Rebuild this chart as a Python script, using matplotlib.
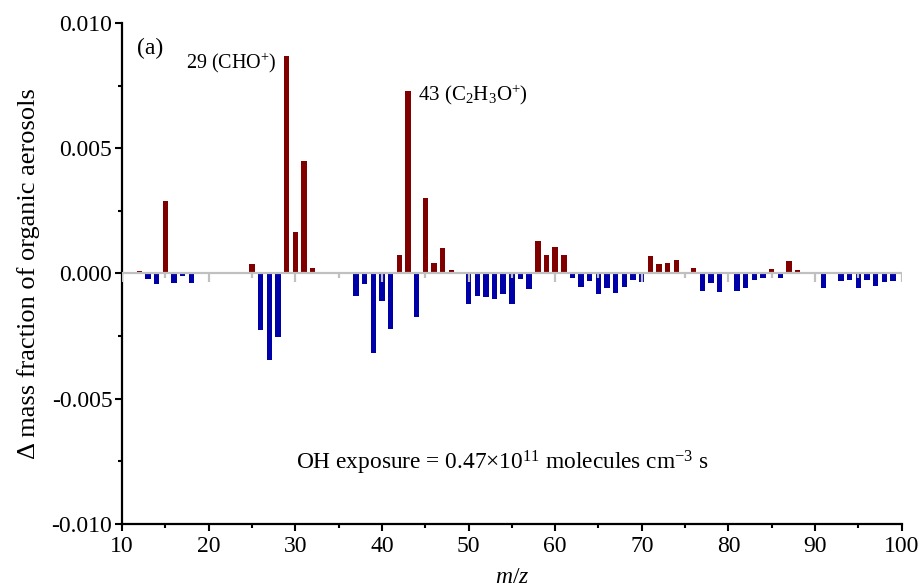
import matplotlib
matplotlib.use("Agg")
import matplotlib.pyplot as plt
from matplotlib.ticker import MultipleLocator
import numpy as np

# m/z and difference in mass fraction
mz = list(range(12, 101))
delta = [
    0.00008, -0.00021, -0.00044, 0.00289, -0.00037, -0.00012, -0.00040, 0.0,      # 12-19
    0.0, 0.0, 0.0, 0.0, 0.00003, 0.00036, -0.00227, -0.00347, -0.00254, 0.00866,   # 20-29
    0.00164, 0.00450, 0.00023, 0.0, 0.0, 0.0, 0.00005, -0.00090, -0.00044, -0.00317,  # 30-39
    -0.00110, -0.00220, 0.00072, 0.00730, -0.00173, 0.00300, 0.00040, 0.00101, 0.00013, 0.0,  # 40-49
    -0.00123, -0.00090, -0.00093, -0.00104, -0.00083, -0.00123, -0.00024, -0.00064, 0.00130, 0.00072,  # 50-59
    0.00104, 0.00072, -0.00020, -0.00053, -0.00030, -0.00083, -0.00060, -0.00080, -0.00056, -0.00027,  # 60-69
    -0.00033, 0.00069, 0.00037, 0.00040, 0.00053, 0.00004, 0.00020, -0.00070, -0.00040, -0.00073,  # 70-79
    0.0, -0.00069, -0.00060, -0.00027, -0.00017, 0.00016, -0.00017, 0.00050, 0.00013, 0.00007,  # 80-89
    0.00007, -0.00060, 0.0, -0.00030, -0.00027, -0.00057, -0.00027, -0.00050, -0.00036, -0.00030,  # 90-99
    0.00004,  # 100
]

red = "#800000"
blue = "#0000a8"
gray = "#c0c0c0"

plt.rcParams["font.family"] = ["Liberation Serif", "DejaVu Serif"]
plt.rcParams["mathtext.fontset"] = "custom"
plt.rcParams["mathtext.rm"] = "Liberation Serif"
plt.rcParams["mathtext.it"] = "Liberation Serif:italic"

fig = plt.figure(figsize=(9.2, 5.88), dpi=100)
ax = fig.add_axes([0.1326, 0.109, 0.8475, 0.852])

vals = np.array(delta)
colors = [red if v > 0 else blue for v in vals]
ax.bar(mz, vals, width=0.62, color=colors, zorder=2)

# gray zero axis with its own ticks
ax.axhline(0, color=gray, lw=1.6, zorder=3)
for t in np.arange(10, 101, 5):
    ln = 0.00036 if t % 10 == 0 else 0.0002
    ax.vlines(t, -ln, 0, color=gray, lw=1.6, zorder=3)

ax.set_xlim(10, 100)
ax.set_ylim(-0.010, 0.010)
ax.xaxis.set_major_locator(MultipleLocator(10))
ax.xaxis.set_minor_locator(MultipleLocator(5))
ax.yaxis.set_major_locator(MultipleLocator(0.005))
ax.yaxis.set_minor_locator(MultipleLocator(0.0025))
ax.yaxis.set_major_formatter(plt.FuncFormatter(lambda v, p: f"{v:.3f}"))

for s in ["top", "right"]:
    ax.spines[s].set_visible(False)
for s in ["left", "bottom"]:
    ax.spines[s].set_linewidth(1.6)
ax.tick_params(which="major", direction="out", length=5, width=1.5, labelsize=17, pad=2)
ax.tick_params(axis="x", which="major", pad=4)
ax.tick_params(which="minor", direction="out", length=3, width=1.5)

ax.set_xlabel("$\\it{m/z}$", fontsize=17, labelpad=7)
ax.set_ylabel("Δ mass fraction of organic aerosols", fontsize=19, labelpad=8)

fig.text(137 / 920, 1 - 48 / 588, "(a)", fontsize=17, va="center", ha="left")
fig.text(186 / 920, 1 - 63 / 588, "29 (CHO$^{+}$)", fontsize=14.5, va="center", ha="left")
fig.text(418 / 920, 1 - 95 / 588, "43 (C$_{2}$H$_{3}$O$^{+}$)", fontsize=15, va="center", ha="left")
fig.text(502 / 920, 1 - 463 / 588, "OH exposure = 0.47×10$^{11}$ molecules cm$^{-3}$ s",
         fontsize=16.8, va="center", ha="center")

fig.savefig("out.png", dpi=100)
